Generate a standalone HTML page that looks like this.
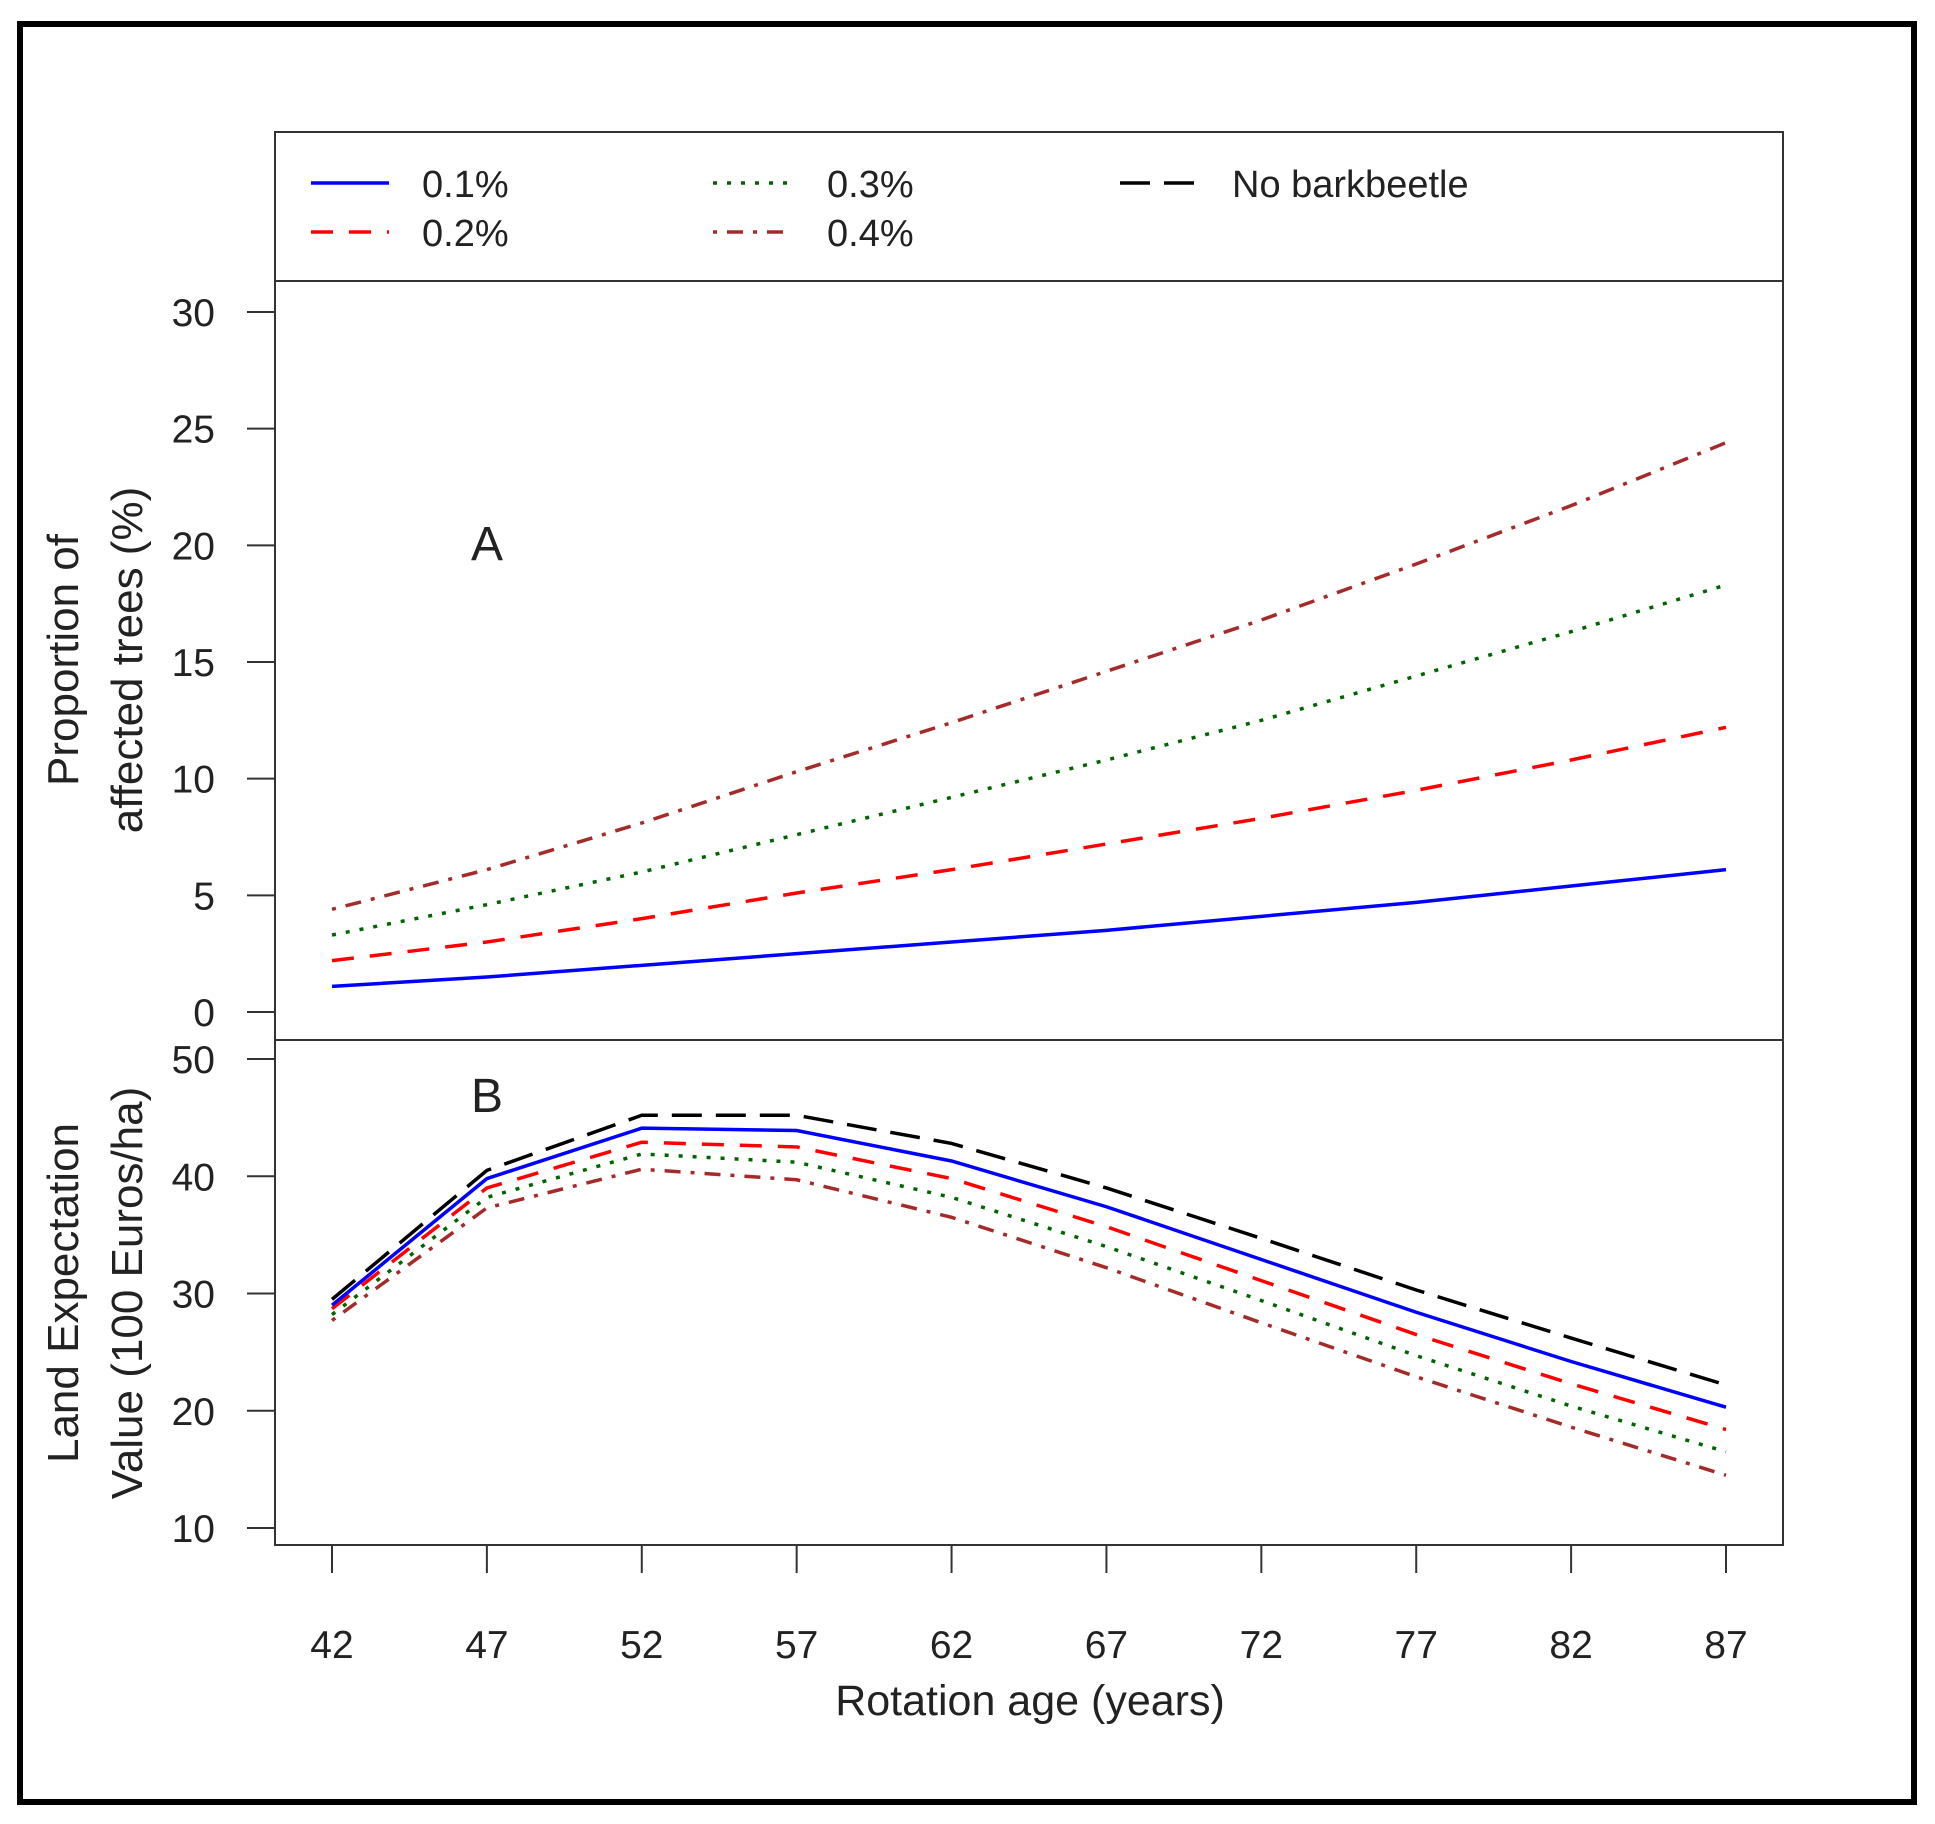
<!DOCTYPE html>
<html><head><meta charset="utf-8"><style>
html,body{margin:0;padding:0;background:#fff}
svg{display:block}
text{font-family:"Liberation Sans",sans-serif;fill:#222}
</style></head><body>
<svg id="c" width="1935" height="1824" viewBox="0 0 1935 1824" xmlns="http://www.w3.org/2000/svg">
<rect x="20" y="24" width="1894" height="1778" fill="#fff" stroke="#000" stroke-width="6"/>
<rect x="275" y="132" width="1508" height="149" fill="none" stroke="#333" stroke-width="2"/>
<rect x="275" y="281" width="1508" height="759" fill="none" stroke="#333" stroke-width="2"/>
<rect x="275" y="1040" width="1508" height="505" fill="none" stroke="#333" stroke-width="2"/>
<g id="leg">
<line x1="311" y1="183" x2="389" y2="183" stroke="#0000ff" stroke-width="3.5"/>
<text x="422" y="197" font-size="38">0.1%</text>
<line x1="311" y1="232" x2="389" y2="232" stroke="#ff0000" stroke-width="3.5" stroke-dasharray="22,16"/>
<text x="422" y="246" font-size="38">0.2%</text>
<line x1="713" y1="183" x2="793" y2="183" stroke="#006400" stroke-width="3.5" stroke-dasharray="4,10"/>
<text x="827" y="197" font-size="38">0.3%</text>
<line x1="713" y1="232" x2="793" y2="232" stroke="#a52a2a" stroke-width="3.5" stroke-dasharray="4,10,16,10"/>
<text x="827" y="246" font-size="38">0.4%</text>
<line x1="1120" y1="183" x2="1199" y2="183" stroke="#000" stroke-width="3.5" stroke-dasharray="30,14"/>
<text x="1232" y="197" font-size="38">No barkbeetle</text>
</g>
<text x="487" y="560" font-size="48" text-anchor="middle">A</text>
<text x="487" y="1112" font-size="48" text-anchor="middle">B</text>
<text transform="translate(78,660) rotate(-90)" font-size="44" text-anchor="middle">Proportion of</text>
<text transform="translate(142,660) rotate(-90)" font-size="44" text-anchor="middle">affected trees (%)</text>
<text transform="translate(78,1293) rotate(-90)" font-size="44" text-anchor="middle">Land Expectation</text>
<text transform="translate(142,1293) rotate(-90)" font-size="44" text-anchor="middle">Value (100 Euros/ha)</text>
<text x="1030" y="1715" font-size="43" text-anchor="middle">Rotation age (years)</text>
<g id="plot"></g>
</svg>
<script>
const ages=[42,47,52,57,62,67,72,77,82,87];
const yTicksA=[0,5,10,15,20,25,30];
const yTicksB=[10,20,30,40,50];
const a01=[1.1,1.5,2.0,2.5,3.0,3.5,4.1,4.7,5.4,6.1];
const a02=[2.2,3.0,4.0,5.1,6.1,7.2,8.3,9.5,10.8,12.2];
const a03=[3.3,4.6,6.0,7.6,9.2,10.8,12.5,14.4,16.3,18.3];
const a04=[4.4,6.1,8.1,10.3,12.4,14.6,16.8,19.2,21.7,24.4];
const bNone=[29.5,40.5,45.2,45.2,42.8,39.0,34.7,30.3,26.2,22.2];
const b01=[29.0,39.8,44.1,43.9,41.3,37.4,32.9,28.4,24.2,20.3];
const b02=[28.7,39.0,42.9,42.5,39.8,35.7,31.1,26.5,22.3,18.4];
const b03=[28.2,38.2,41.9,41.2,38.2,34.0,29.4,24.7,20.4,16.5];
const b04=[27.7,37.3,40.6,39.7,36.5,32.2,27.5,22.9,18.6,14.5];
const NS='http://www.w3.org/2000/svg';
const g=document.getElementById('plot');
const xs=v=>332+(v-42)*(1726-332)/45;
const yA=v=>1012-v*(1012-312)/30;
const yB=v=>1528-(v-10)*(1528-1059)/40;
function mk(t,at){const e=document.createElementNS(NS,t);for(const k in at)e.setAttribute(k,at[k]);g.appendChild(e);return e;}
yTicksA.forEach(v=>{
  const l=mk('line',{x1:247,x2:275,y1:yA(v),y2:yA(v),stroke:'#333','stroke-width':2});
  
  
  const t=mk('text',{x:215,y:yA(v)+14,'font-size':39,'text-anchor':'end'});t.textContent=v;
  
  
});
yTicksB.forEach(v=>{
  const l=mk('line',{x1:247,x2:275,y1:yB(v),y2:yB(v),stroke:'#333','stroke-width':2});
  
  
  const t=mk('text',{x:215,y:yB(v)+14,'font-size':39,'text-anchor':'end'});t.textContent=v;
  
  
});
ages.forEach(v=>{
  const l=mk('line',{x1:xs(v),x2:xs(v),y1:1545,y2:1573,stroke:'#333','stroke-width':2});
  
  
  const t=mk('text',{x:xs(v),y:1658,'font-size':39,'text-anchor':'middle'});t.textContent=v;
  
  
});
function line(arr,yf,col,dash,name){
  const p=mk('polyline',{points:arr.map((v,i)=>xs(ages[i])+','+yf(v)).join(' '),fill:'none',stroke:col,'stroke-width':3.5,'stroke-dasharray':dash});
  
  
}
line(a04,yA,'#a52a2a','4,10,16,10','line-a-04');
line(a03,yA,'#006400','4,10','line-a-03');
line(a02,yA,'#ff0000','22,16','line-a-02');
line(a01,yA,'#0000ff','none','line-a-01');
line(bNone,yB,'#000','30,14','line-b-none');
line(b04,yB,'#a52a2a','4,10,16,10','line-b-04');
line(b03,yB,'#006400','4,10','line-b-03');
line(b02,yB,'#ff0000','22,16','line-b-02');
line(b01,yB,'#0000ff','none','line-b-01');
</script>
</body></html>
